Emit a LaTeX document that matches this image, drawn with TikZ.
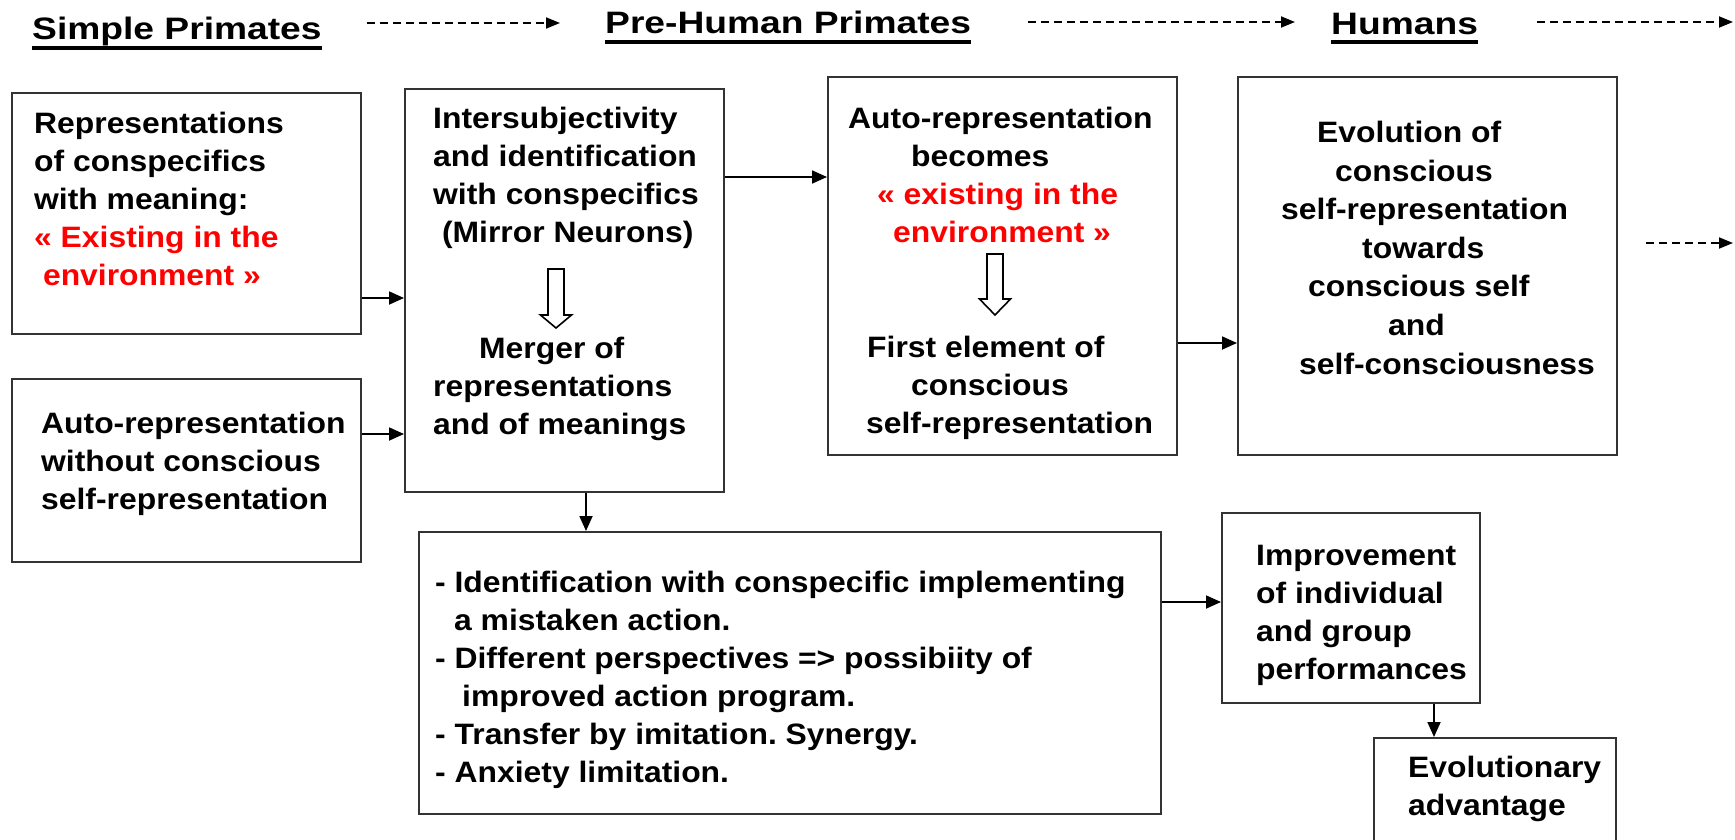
\documentclass[tikz,border=0pt]{standalone}
\usepackage{fontspec}
\newfontfamily\bodyfont{Liberation Sans}[FakeStretch=1.08]
\newfontfamily\headfont{Liberation Sans}[FakeStretch=1.2]
\usetikzlibrary{arrows.meta,calc}

\tikzset{
	box/.style={draw=black!80, line width=2.2pt, anchor=north west, inner sep=0pt},
	txt/.style={anchor=north west, inner sep=0pt, align=left, font=\bodyfont\bfseries\frenchspacing\fontsize{29.5}{38}\selectfont},
	head/.style={anchor=base west, inner sep=0pt, font=\headfont\bfseries\fontsize{31}{36}\selectfont},
	arr/.style={line width=1.8pt, -{Triangle[length=15pt,width=13pt]}},
	dasharr/.style={line width=1.8pt, dash pattern=on 8pt off 5pt, -{Triangle[length=14pt,width=11pt]}},
	uline/.style={line width=3.3pt}
}

\begin{document}
\begin{tikzpicture}[x=1pt, y=-1pt]

	\def\hollowArrow#1#2#3#4{
		\draw[line width=1.6pt, fill=white] (#1-8,#2) -- (#1+8,#2) -- (#1+8,#3) -- (#1+15.5,#3)
			-- (#1,#4) -- (#1-15.5,#3) -- (#1-8,#3) -- cycle;
	}

	\useasboundingbox (0,0) rectangle (1735,840);
	\clip (0,0) rectangle (1735,840);

	% headers
	\node[head] (hdSimple) at (32,40) {Simple Primates};
	\node[head] (hdPre) at (605,34) {Pre-Human Primates};
	\node[head] (hdHum) at (1331,35) {Humans};
	\draw[uline] ([yshift=-8pt]hdSimple.base west) -- ([yshift=-8pt]hdSimple.base east);
	\draw[uline] ([yshift=-8pt]hdPre.base west) -- ([yshift=-8pt]hdPre.base east);
	\draw[uline] ([yshift=-7pt]hdHum.base west) -- ([yshift=-7pt]hdHum.base east);
	\coordinate (edgeTop) at (1733,22);
	\coordinate (edgeMid) at (1733,243);
	\draw[dasharr] ($(hdSimple.base east)+(45,-17)$) -- ($(hdPre.base west)+(-45,-11)$);
	\draw[dasharr] ($(hdPre.base east)+(57,-12)$) -- ($(hdHum.base west)+(-36,-13)$);
	\draw[dasharr] ($(hdHum.base east)+(59,-13)$) -- (edgeTop);

	% boxes
	\node[box, minimum width=349pt, minimum height=241pt] (rep) at (11,92) {};
	\node[box, minimum width=349pt, minimum height=183pt] (autorep) at (11,378) {};
	\node[box, minimum width=319pt, minimum height=403pt] (inter) at (404,88) {};
	\node[box, minimum width=349pt, minimum height=378pt] (becomes) at (827,76) {};
	\node[box, minimum width=379pt, minimum height=378pt] (evol) at (1237,76) {};
	\node[box, minimum width=742pt, minimum height=282pt] (actions) at (418,531) {};
	\node[box, minimum width=258pt, minimum height=190pt] (improve) at (1221,512) {};
	\node[box, minimum width=242pt, minimum height=143pt] (advantage) at (1373,737) {};

	% texts
	\node[txt] (repText) at (34,112) {Representations\\of conspecifics\\with meaning:\\
		\textcolor{red}{« Existing in the}\\\textcolor{red}{~environment »}};
	\node[txt] (autorepText) at (41,412) {Auto-representation\\without conscious\\self-representation};
	\node[txt] (interTop) at (433,107) {Intersubjectivity\\and identification\\with conspecifics\\~(Mirror Neurons)};
	\node[txt] (interBot) at (433,337) {\hspace*{46pt}Merger of\\representations\\and of meanings};
	\node[txt] (becTop) at (848,107) {Auto-representation\\\hspace*{63pt}becomes\\
		\hspace*{29pt}\textcolor{red}{« existing in the}\\\hspace*{45pt}\textcolor{red}{environment »}};
	\node[txt] (becBot) at (866,336) {\hspace*{1pt}First element of\\\hspace*{45pt}conscious\\self-representation};
	\node[txt, font=\bodyfont\bfseries\fontsize{29.5}{38.6}\selectfont] (evolText) at (1281,121)
		{\hspace*{36pt}Evolution of\\\hspace*{54pt}conscious\\self-representation\\
		\hspace*{81pt}towards\\\hspace*{27pt}conscious self\\\hspace*{107pt}and\\\hspace*{18pt}self-consciousness};
	\node[txt] (actionsText) at (435,571) {- Identification with conspecific implementing\\
		\hspace*{19pt}a mistaken action.\\- Different perspectives => possibiity of\\
		\hspace*{27pt}improved action program.\\- Transfer by imitation. Synergy.\\- Anxiety limitation.};
	\node[txt] (improveText) at (1256,545) {Improvement\\of individual\\and group\\performances};
	\node[txt] (advantageText) at (1408,756) {Evolutionary\\advantage};

	\hollowArrow{556}{269}{315}{328};
	\hollowArrow{995}{254}{299}{315};

	% connectors
	\draw[arr] (rep.east |- 0,298) -- (inter.west |- 0,298);
	\draw[arr] (autorep.east |- 0,434) -- (inter.west |- 0,434);
	\draw[arr] (inter.east |- 0,177) -- (becomes.west |- 0,177);
	\draw[arr] (becomes.east |- 0,343) -- (evol.west |- 0,343);
	\draw[arr] (586,0 |- inter.south) -- (586,0 |- actions.north);
	\draw[arr] (actions.east |- 0,602) -- (improve.west |- 0,602);
	\draw[arr] (1434,0 |- improve.south) -- (1434,0 |- advantage.north);
	\draw[dasharr] ($(evol.east |- edgeMid)+(28,0)$) -- (edgeMid);

\end{tikzpicture}
\end{document}
